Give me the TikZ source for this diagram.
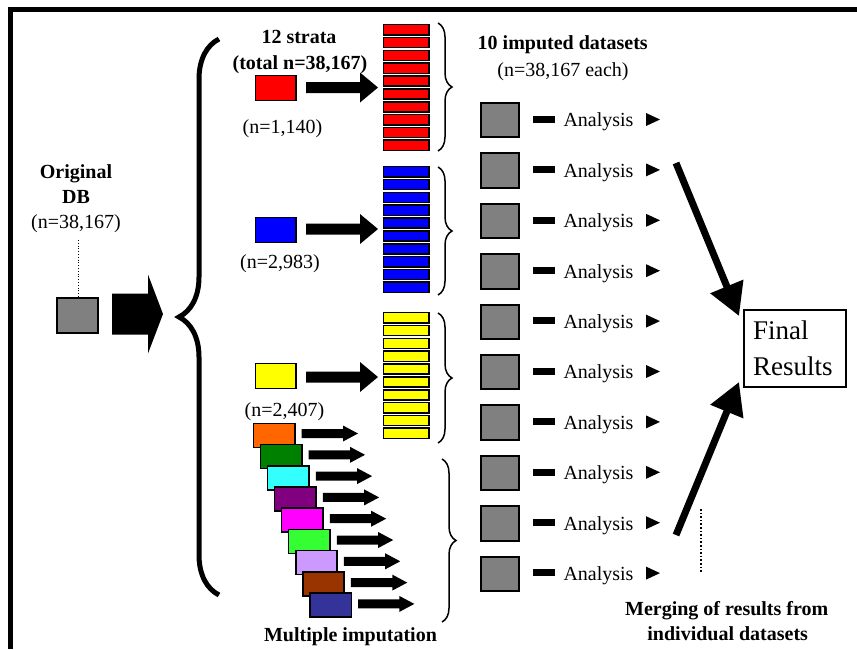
\documentclass[tikz,border=0pt]{standalone}
\usepackage{fontspec}
\setmainfont{Liberation Serif}
\usetikzlibrary{arrows.meta,decorations.pathreplacing}
\definecolor{cgray}{RGB}{128,128,128}
\definecolor{cred}{RGB}{255,0,0}
\definecolor{cblue}{RGB}{0,0,255}
\definecolor{cyellow}{RGB}{255,255,0}
\definecolor{corange}{RGB}{255,102,0}
\definecolor{cdgreen}{RGB}{0,128,0}
\definecolor{ccyan}{RGB}{51,255,255}
\definecolor{cpurple}{RGB}{128,0,128}
\definecolor{cmagenta}{RGB}{255,0,255}
\definecolor{clime}{RGB}{51,255,51}
\definecolor{clav}{RGB}{204,153,255}
\definecolor{cbrown}{RGB}{153,51,0}
\definecolor{cnavy}{RGB}{51,51,153}
\newcommand{\blockarr}[6]{% xs, xh, xt, yc, shaft half, head half
  \fill ({#1},{#4-#5}) -- ({#2},{#4-#5}) -- ({#2},{#4-#6}) -- ({#3},{#4}) -- ({#2},{#4+#6}) -- ({#2},{#4+#5}) -- ({#1},{#4+#5}) -- cycle;}
\begin{document}
\begin{tikzpicture}[x=1pt,y=-1pt,
  txt/.style={font=\fontsize{20}{24}\selectfont, inner sep=0pt},
  btxt/.style={font=\fontsize{20}{24}\selectfont\bfseries, inner sep=0pt},
  bigtxt/.style={font=\fontsize{27}{32}\selectfont, inner sep=0pt},
  sbox/.style={draw, line width=1.6pt, inner sep=0pt, minimum width=40.5pt, minimum height=25pt, anchor=north west},
  bar/.style={draw, line width=1.6pt, inner sep=0pt, minimum width=45.5pt, minimum height=10.2pt, anchor=north west},
  gsq/.style={draw, line width=2pt, fill=cgray, inner sep=0pt, minimum width=38pt, minimum height=34.3pt, anchor=north west},
  thinbrace/.style={line width=1.5pt, decorate, decoration={brace, amplitude=14pt}},
  bigbrace/.style={line width=5pt, decorate, decoration={brace, amplitude=40pt}},
  fatarrow/.style={line width=7pt, -{Triangle[length=32pt,width=34pt]}}
]
\useasboundingbox (0,0) rectangle (857,649);
\fill[white] (0,0) rectangle (857,649);
% frame
\draw[line width=5pt] (10.5,649) -- (10.5,9.5) -- (857,9.5);

% original DB
\node[btxt, anchor=base] (orig) at (76,178) {Original};
\node[btxt, anchor=base] (db) at (76,203.5) {DB};
\node[txt, anchor=base] (dbn) at (76,228) {(n=38,167)};
\node[gsq, minimum width=41pt, minimum height=35pt] (dbsq) at (56,297) {};
\draw[line width=0.8pt, dotted] (78.5,240) -- (dbsq.north -| 78.5,0);
\blockarr{112}{148}{163}{314}{20.5}{39.5}

% big brace
\draw[bigbrace] (219,595) -- (219,39);

% strata labels
\node[btxt, anchor=base] (strata) at (299,43.5) {12 strata};
\node[btxt, anchor=base] (total) at (300,69.5) {(total n=38,167)};

% red
\node[sbox, fill=cred] (rbox) at (254.8,74.8) {};
\node[txt, anchor=base] (rn) at (282.5,133.3) {(n=1,140)};
\blockarr{306}{360}{378}{87.5}{5.5}{15}
\foreach \i in {0,...,9} \node[bar, fill=cred] (r\i) at (382.5,{23.8+12.85*\i}) {};
\draw[thinbrace] (438,23) -- (438,151);

% blue
\node[sbox, fill=cblue] (bbox) at (254.8,216.8) {};
\node[txt, anchor=base] (bn) at (280,268.5) {(n=2,983)};
\blockarr{306}{360}{378}{229}{5.5}{15}
\foreach \i in {0,...,9} \node[bar, fill=cblue] (b\i) at (382.5,{165.8+12.85*\i}) {};
\draw[thinbrace] (438,167) -- (438,295);

% yellow
\node[sbox, fill=cyellow] (ybox) at (254.8,362.8) {};
\node[txt, anchor=base] (yn) at (284.5,416.5) {(n=2,407)};
\blockarr{306}{360}{378}{377}{5.5}{15}
\foreach \i in {0,...,9} \node[bar, fill=cyellow] (y\i) at (382.5,{311.8+12.85*\i}) {};
\draw[thinbrace] (438,313) -- (438,443);

% cascade
\foreach \c [count=\k from 0] in {corange,cdgreen,ccyan,cpurple,cmagenta,clime,clav,cbrown,cnavy} {
  \node[sbox, fill=\c, minimum width=41.5pt, minimum height=24pt] (c\k) at ({252.5+7.07*\k},{422.5+21.2*\k}) {};
  \blockarr{301.7+7.04*\k}{343+7.04*\k}{358+7.04*\k}{433.5+21.3*\k}{4.5}{8}
}
\draw[thinbrace] (442,459) -- (442,622);
\node[btxt, anchor=base] (mi) at (350.5,641) {Multiple imputation};

% imputed datasets
\node[btxt, anchor=base] (imp) at (562.7,49) {10 imputed datasets};
\node[txt, anchor=base] (impn) at (563,76) {(n=38,167 each)};

\foreach \k in {0,...,9} {
  \node[gsq] (g\k) at (480.3,{102+50.4*\k}) {};
  \fill (533.3,{119.2+50.4*\k-3.5}) rectangle (555,{119.2+50.4*\k+3.5});
  \node[txt, anchor=base west] (a\k) at (563.3,{126.9+50.4*\k}) {Analysis};
  \fill (646,{119.5+50.4*\k-6.5}) -- (660,{119.5+50.4*\k}) -- (646,{119.5+50.4*\k+6.5}) -- cycle;
}

% final results
\node[draw, line width=2pt, inner sep=0pt, minimum width=102.5pt, minimum height=77pt, anchor=north west] (fr) at (742.7,308.7) {};
\node[bigtxt, anchor=base west] (fin) at (753,339.5) {Final};
\node[bigtxt, anchor=base west] (res) at (753,375) {Results};

\coordinate (s1) at (676,163);
\coordinate (t1) at (739,316);
\coordinate (s2) at (676,535);
\coordinate (t2) at (739,382);
\draw[fatarrow] (s1) -- (t1);
\draw[fatarrow] (s2) -- (t2);

\coordinate (d1) at (700.7,509);
\coordinate (d2) at (700.7,573);
\draw[line width=1.6pt, dotted] (d1) -- (d2);

\node[btxt, anchor=base] (m1) at (726.7,615) {Merging of results from};
\node[btxt, anchor=base] (m2) at (727.7,640) {individual datasets};
\end{tikzpicture}
\end{document}
